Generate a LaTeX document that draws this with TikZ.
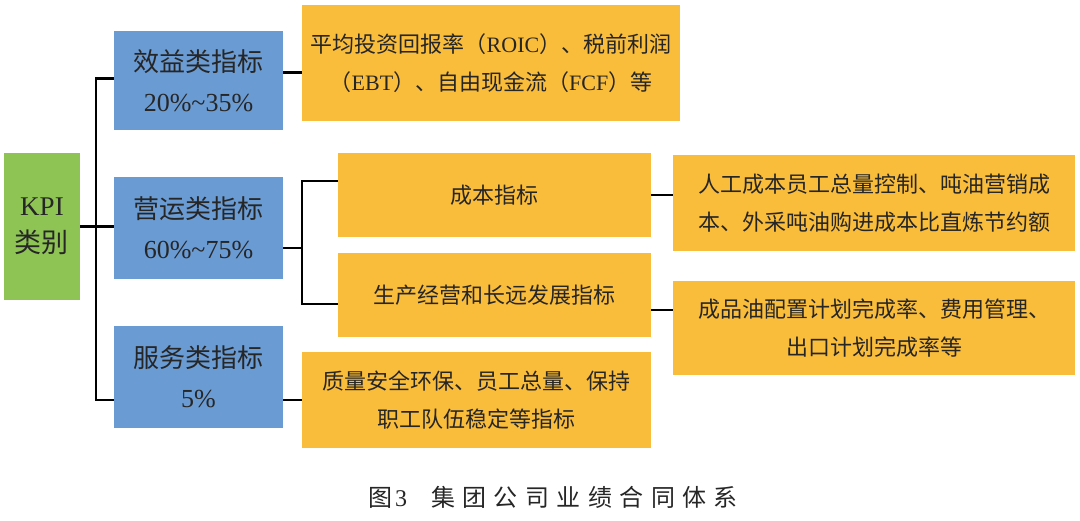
\documentclass[tikz,border=0pt]{standalone}
\usepackage{fontspec}
\setmainfont{Liberation Serif}
\newfontfamily\cjk{Noto Sans CJK SC}
\newfontfamily\capcjk{Noto Sans CJK SC}[LetterSpace=31]
\definecolor{kpigreen}{RGB}{141,196,84}
\definecolor{catblue}{RGB}{106,155,211}
\definecolor{itemorange}{RGB}{249,189,59}

\begin{document}
\begin{tikzpicture}[x=1pt,y=-1pt,
  kpibox/.style={fill=kpigreen,minimum width=76pt,minimum height=147pt,align=center,text=black!85,font=\fontsize{27}{37}\selectfont},
  catbox/.style={fill=catblue,minimum width=169pt,align=center,text=black!85,font=\fontsize{26}{40}\selectfont},
  itembox/.style={fill=itemorange,align=center,text=black!85,font=\fontsize{22}{38}\selectfont},
  link/.style={line width=2.4pt,black}]
\useasboundingbox (0,0) rectangle (1080,520);
\node[kpibox] (kpi) at (42,226.5) {KPI\\{\cjk 类别}};
\node[catbox,minimum height=99pt] (xy) at (198.5,80.5) {{\cjk 效益类指标}\\20\%\textasciitilde35\%};
\node[catbox,minimum height=102pt] (yy) at (198.5,228) {{\cjk 营运类指标}\\60\%\textasciitilde75\%};
\node[catbox,minimum height=102pt] (fw) at (198.5,377) {{\cjk 服务类指标}\\5\%};
\node[itembox,minimum width=378pt,minimum height=116pt] (xyd) at (491,63) {{\cjk 平均投资回报率（}ROIC{\cjk ）、税前利润}\\{\cjk （}EBT{\cjk ）、自由现金流（}FCF{\cjk ）等}};
\node[itembox,minimum width=313pt,minimum height=84pt] (cb) at (494.5,195) {\cjk 成本指标};
\node[itembox,minimum width=313pt,minimum height=84pt] (sc) at (494.5,295) {\cjk 生产经营和长远发展指标};
\node[itembox,minimum width=349pt,minimum height=96pt] (fwd) at (476.5,400) {\cjk 质量安全环保、员工总量、保持\\\cjk 职工队伍稳定等指标};
\node[itembox,minimum width=402pt,minimum height=96pt] (cbd) at (874,203) {\cjk 人工成本员工总量控制、吨油营销成\\\cjk 本、外采吨油购进成本比直炼节约额};
\node[itembox,minimum width=402pt,minimum height=94pt] (scd) at (874,328) {\cjk 成品油配置计划完成率、费用管理、\\\cjk 出口计划完成率等};
\node[font=\fontsize{24}{30}\selectfont,text=black!85] (cap) at (553,497) {{\capcjk 图}\hspace{3pt}3\hspace{24pt}{\capcjk 集团公司业绩合同体系}};

\draw[link] ([yshift=2pt]xy.west) -- ++(-18,0) |- ([yshift=-23pt]fw.west);
\draw[link] (kpi.east) -- (kpi.east -| yy.west);
\draw[link] ([yshift=8pt]xy.east) -- ([yshift=8pt]xy.east -| xyd.west);
\draw[link] ([yshift=-20pt]yy.east) -- ++(19,0);
\draw[link] ([yshift=14pt]cb.west) -- ++(-36,0) |- ([yshift=-9pt]sc.west);
\draw[link] (cb.east) -- (cb.east -| cbd.west);
\draw[link] ([yshift=-15pt]sc.east) -- ([yshift=-15pt]sc.east -| scd.west);
\draw[link] ([yshift=-23pt]fw.east) -- ([yshift=-23pt]fw.east -| fwd.west);
\end{tikzpicture}
\end{document}
